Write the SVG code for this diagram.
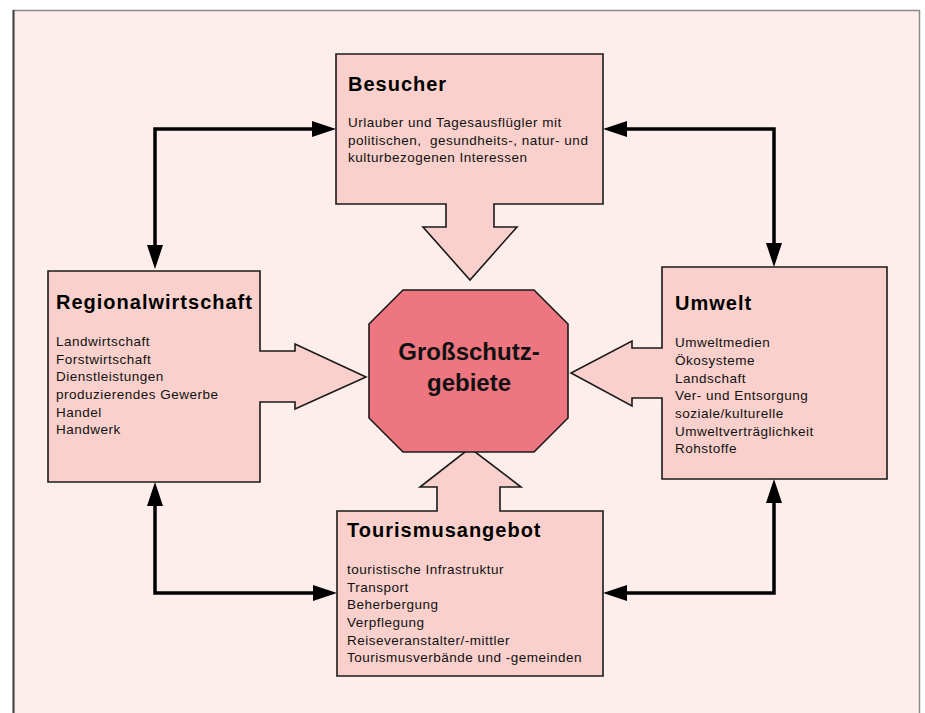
<svg xmlns="http://www.w3.org/2000/svg" width="925" height="713" viewBox="0 0 925 713">
<defs>
<style>
.frame{fill:#FDEEEB;stroke:#8a8a8a;stroke-width:1.5}
.box{fill:#F9D0CB;stroke:#1a1a1a;stroke-width:1.6;stroke-linejoin:miter}
.oct{fill:#EE7680;stroke:#1a1a1a;stroke-width:1.6}
.title{font-family:"Liberation Sans",Arial,sans-serif;font-weight:bold;font-size:20px;letter-spacing:1px;fill:#000}
.body{font-family:"Liberation Sans",Arial,sans-serif;font-size:13.5px;letter-spacing:0.5px;fill:#111;white-space:pre}
.center{font-family:"Liberation Sans",Arial,sans-serif;font-weight:bold;font-size:24px;fill:#111;text-anchor:middle}
.conn{fill:none;stroke:#000;stroke-width:3.5;stroke-linejoin:miter}
</style>
<marker id="ah" viewBox="0 0 24 16" refX="14" refY="8" markerWidth="24" markerHeight="16" markerUnits="userSpaceOnUse" orient="auto-start-reverse">
<path d="M0,0 L24,8 L0,16 Z" fill="#000"/>
</marker>
</defs>
<rect class="frame" x="13.5" y="10.5" width="906" height="710"/>
<line x1="13.5" y1="10" x2="13.5" y2="713" stroke="#444" stroke-width="2"/>

<g id="connectors">
<path class="conn" d="M155,259 L155,129 L326,129" marker-start="url(#ah)" marker-end="url(#ah)"/>
<path class="conn" d="M613,129 L774,129 L774,257" marker-start="url(#ah)" marker-end="url(#ah)"/>
<path class="conn" d="M155,492 L155,593 L327,593" marker-start="url(#ah)" marker-end="url(#ah)"/>
<path class="conn" d="M613,593 L774,593 L774,489" marker-start="url(#ah)" marker-end="url(#ah)"/>
</g>

<g id="besucher">
<path class="box" d="M336,54 H603 V204 H494 V227 H517 L470,280 L423,227 H446 V204 H336 Z"/>
<text class="title" x="348" y="91">Besucher</text>
<text class="body" x="348" y="127">Urlauber und Tagesausflügler mit</text>
<text class="body" x="348" y="145">politischen,  gesundheits-, natur- und</text>
<text class="body" x="348" y="162">kulturbezogenen Interessen</text>
</g>

<g id="regionalwirtschaft">
<path class="box" d="M48,271 H260 V351 H295 V344 L366,377 L295,409 V402 H260 V482 H48 Z"/>
<text class="title" x="56" y="309">Regionalwirtschaft</text>
<text class="body" x="56" y="346">Landwirtschaft</text>
<text class="body" x="56" y="364">Forstwirtschaft</text>
<text class="body" x="56" y="381">Dienstleistungen</text>
<text class="body" x="56" y="399">produzierendes Gewerbe</text>
<text class="body" x="56" y="417">Handel</text>
<text class="body" x="56" y="434">Handwerk</text>
</g>

<g id="umwelt">
<path class="box" d="M662,267 H887 V479 H662 V398 H632 V406 L571,373 L632,341 V348 H662 Z"/>
<text class="title" x="675" y="310">Umwelt</text>
<text class="body" x="675" y="347">Umweltmedien</text>
<text class="body" x="675" y="365">Ökosysteme</text>
<text class="body" x="675" y="383">Landschaft</text>
<text class="body" x="675" y="400">Ver- und Entsorgung</text>
<text class="body" x="675" y="418">soziale/kulturelle</text>
<text class="body" x="675" y="436">Umweltverträglichkeit</text>
<text class="body" x="675" y="453">Rohstoffe</text>
</g>

<g id="tourismusangebot">
<path class="box" d="M337,511 H437 V487 H420 L470,448 L521,487 H500 V511 H603 V676 H337 Z"/>
<text class="title" x="347" y="537">Tourismusangebot</text>
<text class="body" x="347" y="574">touristische Infrastruktur</text>
<text class="body" x="347" y="592">Transport</text>
<text class="body" x="347" y="609">Beherbergung</text>
<text class="body" x="347" y="627">Verpflegung</text>
<text class="body" x="347" y="645">Reiseveranstalter/-mittler</text>
<text class="body" x="347" y="662">Tourismusverbände und -gemeinden</text>
</g>

<g id="grossschutzgebiete">
<polygon class="oct" points="403,290 534,290 568,324 568,418 534,452 403,452 369,418 369,324"/>
<text class="center" x="469" y="360">Großschutz-</text>
<text class="center" x="469" y="391">gebiete</text>
</g>
</svg>
